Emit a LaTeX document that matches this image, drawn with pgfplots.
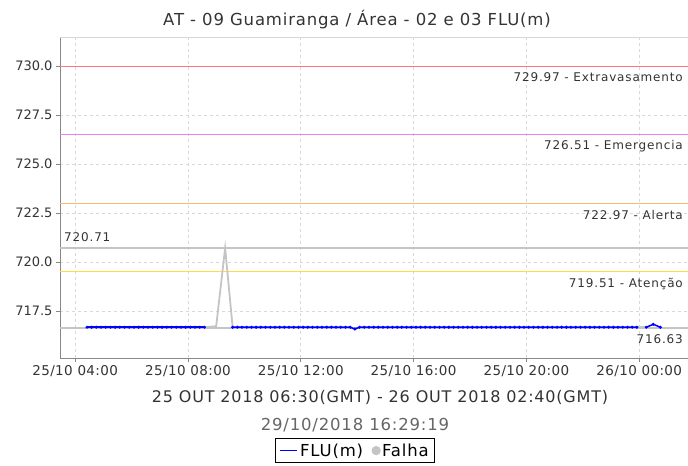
\documentclass[border=0pt]{standalone}
\usepackage{pgfplots}
\pgfplotsset{compat=1.18}
\usepackage{fontspec}
\setmainfont{DejaVu Sans}
\newfontfamily\annfont[LetterSpace=7]{DejaVu Sans}
\newfontfamily\widefont[LetterSpace=5]{DejaVu Sans}
\newfontfamily\tickfont[LetterSpace=3]{DejaVu Sans}
\definecolor{txt}{RGB}{51,51,51}
\definecolor{gridc}{RGB}{216,216,216}
\definecolor{spine}{RGB}{136,136,136}
\definecolor{thrRed}{RGB}{255,120,120}
\definecolor{thrPink}{RGB}{240,128,240}
\definecolor{thrOrange}{rgb}{1,0.72,0.45}
\definecolor{thrYellow}{rgb}{1,0.86,0.3}
\definecolor{lgray}{RGB}{196,196,196}
\definecolor{fblue}{RGB}{0,0,255}
\begin{document}
\begin{tikzpicture}
\useasboundingbox (0,0) rectangle (688bp,466bp);
\begin{axis}[
  at={(60bp,108bp)}, anchor=south west,
  width=628bp, height=320bp, scale only axis,
  clip=false,
  xmin=207.7, xmax=1543.8, ymin=715.1, ymax=731.43,
  xtick={240,480,720,960,1200,1440},
  xticklabels={25/10 04:00,25/10 08:00,25/10 12:00,25/10 16:00,25/10 20:00,26/10 00:00},
  ytick={717.5,720,722.5,725,727.5,730},
  yticklabel style={/pgf/number format/fixed, /pgf/number format/fixed zerofill, /pgf/number format/precision=1, font=\fontsize{13bp}{15bp}\selectfont, text=txt},
  /pgf/number format/assume math mode=true,
  xticklabel style={font=\tickfont\fontsize{13.5bp}{15bp}\selectfont, text=txt},
  axis x line*=bottom, axis y line*=left,
  axis line style={-, draw=spine, line width=1bp},
  tick align=outside, major tick length=4bp,
  tick style={draw=spine, line width=0.8bp},
  grid=major,
  major grid style={draw=gridc, dash pattern=on 3bp off 3bp, line width=0.7bp},
  legend style={at={(0.47,-0.25)}, anchor=north, legend columns=2, draw=black, line width=1.2bp,
    font=\widefont\fontsize{16.5bp}{18bp}\selectfont, inner xsep=4bp, inner ysep=3bp,
    /tikz/every even column/.append style={column sep=7bp}},
  legend cell align=left,
]
% top border
\draw[draw=gridc, line width=1bp] (rel axis cs:0,1) -- (rel axis cs:1,1);
% threshold lines
\addplot[forget plot, mark=none, solid, draw=thrRed, line width=1.2bp] coordinates {(208.5,729.97)(1543.8,729.97)};
\addplot[forget plot, mark=none, solid, draw=thrPink, line width=1.2bp] coordinates {(208.5,726.51)(1543.8,726.51)};
\addplot[forget plot, mark=none, solid, draw=thrOrange, color=thrOrange, line width=1.3bp] coordinates {(208.5,722.97)(1543.8,722.97)};
\addplot[forget plot, mark=none, solid, draw=thrYellow, color=thrYellow, line width=1.3bp] coordinates {(208.5,719.51)(1543.8,719.51)};
\addplot[forget plot, mark=none, solid, draw=lgray, line width=1.2bp] coordinates {(208.5,720.71)(1543.8,720.71)};
\addplot[forget plot, mark=none, solid, draw=lgray, line width=1.2bp] coordinates {(208.5,716.63)(1543.8,716.63)};
% failure series
\addplot[forget plot, mark=none, draw=lgray, line width=1.8bp] coordinates {(515,716.67)(540,716.72)(559,720.71)(575,716.67)};
\addplot[forget plot, mark=none, draw=lgray, line width=1.8bp] coordinates {(1435,716.67)(1455,716.67)};
% FLU(m)
\addplot[forget plot, color=fblue, line width=1.5bp, mark=*, mark size=0.6bp, mark options={fill=fblue!60!black, draw=none}] coordinates {
(265,716.67)(275,716.67)(285,716.67)(295,716.67)(305,716.67)(315,716.67)(325,716.67)(335,716.67)(345,716.67)(355,716.67)
(365,716.67)(375,716.67)(385,716.67)(395,716.67)(405,716.67)(415,716.67)(425,716.67)(435,716.67)(445,716.67)(455,716.67)
(465,716.67)(475,716.67)(485,716.67)(495,716.67)(505,716.67)(515,716.67)};
\addplot[forget plot, color=fblue, line width=1.5bp, mark=*, mark size=0.6bp, mark options={fill=fblue!60!black, draw=none}] coordinates {
(575,716.67)(585,716.67)(595,716.67)(605,716.67)(615,716.67)(625,716.67)(635,716.67)(645,716.67)(655,716.67)(665,716.67)
(675,716.67)(685,716.67)(695,716.67)(705,716.67)(715,716.67)(725,716.67)(735,716.67)(745,716.67)(755,716.67)(765,716.67)
(775,716.67)(785,716.67)(795,716.67)(805,716.67)(815,716.67)(825,716.67)(835,716.58)(845,716.67)(855,716.67)(865,716.67)
(875,716.67)(885,716.67)(895,716.67)(905,716.67)(915,716.67)(925,716.67)(935,716.67)(945,716.67)(955,716.67)(965,716.67)
(975,716.67)(985,716.67)(995,716.67)(1005,716.67)(1015,716.67)(1025,716.67)(1035,716.67)(1045,716.67)(1055,716.67)(1065,716.67)
(1075,716.67)(1085,716.67)(1095,716.67)(1105,716.67)(1115,716.67)(1125,716.67)(1135,716.67)(1145,716.67)(1155,716.67)(1165,716.67)
(1175,716.67)(1185,716.67)(1195,716.67)(1205,716.67)(1215,716.67)(1225,716.67)(1235,716.67)(1245,716.67)(1255,716.67)(1265,716.67)
(1275,716.67)(1285,716.67)(1295,716.67)(1305,716.67)(1315,716.67)(1325,716.67)(1335,716.67)(1345,716.67)(1355,716.67)(1365,716.67)
(1375,716.67)(1385,716.67)(1395,716.67)(1405,716.67)(1415,716.67)(1425,716.67)(1435,716.67)};
\addplot[forget plot, color=fblue, line width=1.5bp, mark=*, mark size=0.6bp, mark options={fill=fblue!60!black, draw=none}] coordinates {
(1455,716.67)(1470,716.82)(1485,716.67)};
\addlegendimage{color=fblue, line width=1.5bp}
\addlegendentry{FLU(m)}
\addlegendimage{only marks, mark=*, mark size=4bp, color=lgray}
\addlegendentry{Falha}
% annotations
\begin{scope}[every node/.style={font=\annfont\fontsize{12bp}{14bp}\selectfont, text=txt, inner sep=0pt}]
\node[anchor=north east] at ([xshift=-5bp,yshift=-6bp]axis cs:1543.8,729.97) {729.97 - Extravasamento};
\node[anchor=north east] at ([xshift=-5bp,yshift=-6bp]axis cs:1543.8,726.51) {726.51 - Emergencia};
\node[anchor=north east] at ([xshift=-5bp,yshift=-6bp]axis cs:1543.8,722.97) {722.97 - Alerta};
\node[anchor=north east] at ([xshift=-5bp,yshift=-6bp]axis cs:1543.8,719.51) {719.51 - Atenção};
\node[anchor=north east] at ([xshift=-5bp,yshift=-6bp]axis cs:1543.8,716.63) {716.63};
\node[anchor=south west] at ([xshift=4bp,yshift=6bp]axis cs:207.7,720.71) {720.71};
\end{scope}
\end{axis}
\node[text=txt, font=\widefont\fontsize{16.5bp}{18bp}\selectfont] at (357bp,446bp) {AT - 09 Guamiranga / Área - 02 e 03 FLU(m)};
\node[text=txt, font=\widefont\fontsize{16bp}{18bp}\selectfont] at (380bp,69bp) {25 OUT 2018 06:30(GMT) - 26 OUT 2018 02:40(GMT)};
\node[text=black!60, font=\widefont\fontsize{16.5bp}{18bp}\selectfont] at (355bp,41bp) {29/10/2018 16:29:19};
\end{tikzpicture}
\end{document}
